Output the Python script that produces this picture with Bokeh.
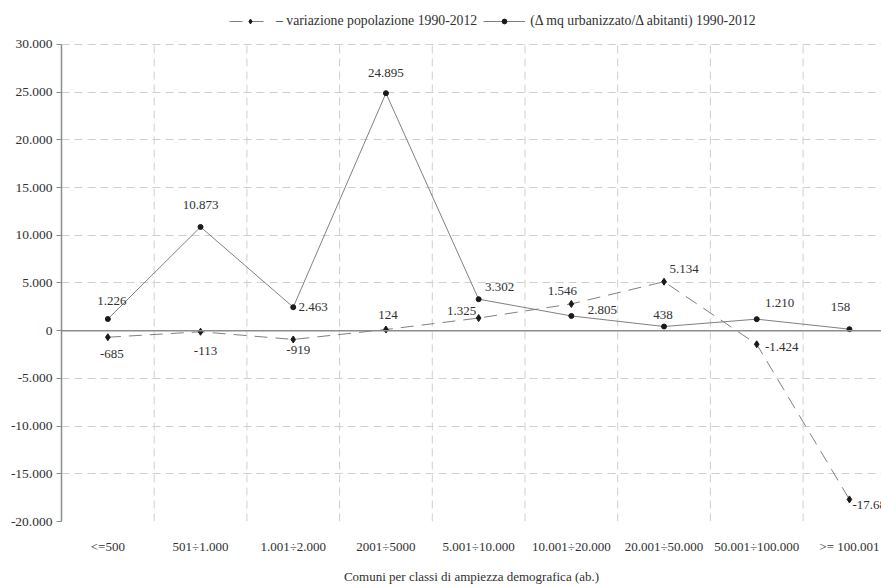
from bokeh.plotting import figure
from bokeh.models import FixedTicker, Span, Legend, LegendItem, ColumnDataSource, Range1d
from bokeh.embed import file_html
from bokeh.resources import INLINE

categories = ["<=500", "501÷1.000", "1.001÷2.000", "2001÷5000", "5.001÷10.000",
              "10.001÷20.000", "20.001÷50.000", "50.001÷100.000", ">= 100.001"]
pop_var = [-685, -113, -919, 124, 1325, 2805, 5134, -1424, -17683]
urb_ratio = [1226, 10873, 2463, 24895, 3302, 1546, 438, 1210, 158]
y_ticks = [-20000, -15000, -10000, -5000, 0, 5000, 10000, 15000, 20000, 25000, 30000]

pop_label = "– variazione popolazione 1990-2012"
urb_label = "(Δ mq urbanizzato/Δ abitanti) 1990-2012"
x_title = "Comuni per classi di ampiezza demografica (ab.)"

# label offsets in screen pixels (style only)
pop_dx = [4, 5, 5, 2, -17, 31, 20, 25, 23]
pop_dy = [17, 19, 11, -15, -7, 6, -13, 3, 6]
urb_dx = [4, 0, 20, 0, 21, -9, -1, 23, -9]
urb_dy = [-18, -22, 0, -20, -12, -25, -12, -16, -22]


def fmt(v):
    return f"{v:,}".replace(",", ".")


FONT = "Liberation Serif"
GRAY = "#808080"
TXT = "#303030"
GRID = "#cfcfcf"

xs = [i + 0.5 for i in range(len(categories))]
bounds_x = list(range(1, len(categories)))
y_lo, y_hi = y_ticks[0], y_ticks[-1]
# headroom above the top tick for the legend (45px at 488px per 50000)
y_top = y_hi + (y_hi - y_lo) * 45 / 488

pop_src = ColumnDataSource(dict(x=xs, y=pop_var, t=[fmt(v) for v in pop_var], dx=pop_dx, dy=pop_dy))
urb_src = ColumnDataSource(dict(x=xs, y=urb_ratio, t=[fmt(v) for v in urb_ratio], dx=urb_dx, dy=urb_dy))

p = figure(width=881, height=586, output_backend="svg", toolbar_location=None,
           x_range=Range1d(0, 8.846), y_range=Range1d(y_lo, y_top),
           min_border_left=61, min_border_right=0, min_border_top=0, min_border_bottom=53)
p.outline_line_color = None
p.background_fill_color = "white"

# grids
p.xgrid.grid_line_color = None
p.ygrid.ticker = FixedTicker(ticks=y_ticks)
p.ygrid.grid_line_color = GRID
p.ygrid.grid_line_dash = "8 5"
p.ygrid.grid_line_width = 1
# vertical category separators, limited to the value axis extent
p.segment(x0=bounds_x, y0=[y_lo] * len(bounds_x), x1=bounds_x, y1=[y_hi] * len(bounds_x),
          line_color=GRID, line_dash="8 5", line_width=1)

# axes
p.yaxis.ticker = FixedTicker(ticks=y_ticks)
p.yaxis.bounds = (y_lo, y_hi)
p.yaxis.major_label_overrides = {t: fmt(t) for t in y_ticks}
p.yaxis.axis_line_color = "#8c8c8c"
p.yaxis.axis_line_width = 1.5
p.yaxis.major_tick_line_color = "#8c8c8c"
p.yaxis.major_tick_in = 0
p.yaxis.major_tick_out = 5
p.yaxis.minor_tick_line_color = None
p.yaxis.major_label_text_font = FONT
p.yaxis.major_label_text_font_size = "13.5px"
p.yaxis.major_label_text_color = TXT
p.yaxis.major_label_standoff = 4

p.xaxis.ticker = FixedTicker(ticks=xs)
p.xaxis.major_label_overrides = {x: c for x, c in zip(xs, categories)}
p.xaxis.axis_line_color = None
p.xaxis.major_tick_line_color = None
p.xaxis.minor_tick_line_color = None
p.xaxis.major_label_text_font = FONT
p.xaxis.major_label_text_font_size = "13px"
p.xaxis.major_label_text_color = TXT
p.xaxis.major_label_standoff = 11
p.xaxis.axis_label = x_title
p.xaxis.axis_label_text_font = FONT
p.xaxis.axis_label_text_font_size = "13px"
p.xaxis.axis_label_text_font_style = "normal"
p.xaxis.axis_label_text_color = TXT
p.xaxis.axis_label_standoff = 12

p.add_layout(Span(location=0, dimension="width", line_color="#8c8c8c", line_width=1.5))

# series
pl = p.line("x", "y", source=pop_src, line_color=GRAY, line_width=1, line_dash="13 8")
ps = p.scatter("x", "y", source=pop_src, marker="diamond", size=7, color="#1a1a1a")
ul = p.line("x", "y", source=urb_src, line_color=GRAY, line_width=1)
us = p.scatter("x", "y", source=urb_src, marker="circle", size=5, color="#1a1a1a")

for src in (pop_src, urb_src):
    p.text("x", "y", text="t", source=src, x_offset="dx", y_offset="dy",
           text_font={"value": FONT}, text_font_size="13px", text_color=TXT,
           text_align="center", text_baseline="middle")

legend = Legend(items=[LegendItem(label=pop_label, renderers=[pl, ps]),
                       LegendItem(label=urb_label, renderers=[ul, us])],
                orientation="horizontal", location=(168, 492),
                padding=0, margin=0, spacing=6, glyph_width=42, glyph_height=12,
                label_standoff=5, label_text_font=FONT, label_text_font_size="13.75px",
                label_text_color=TXT, border_line_color=None, background_fill_alpha=0)
p.add_layout(legend, "center")

open("out.html", "w").write(file_html(p, INLINE))
